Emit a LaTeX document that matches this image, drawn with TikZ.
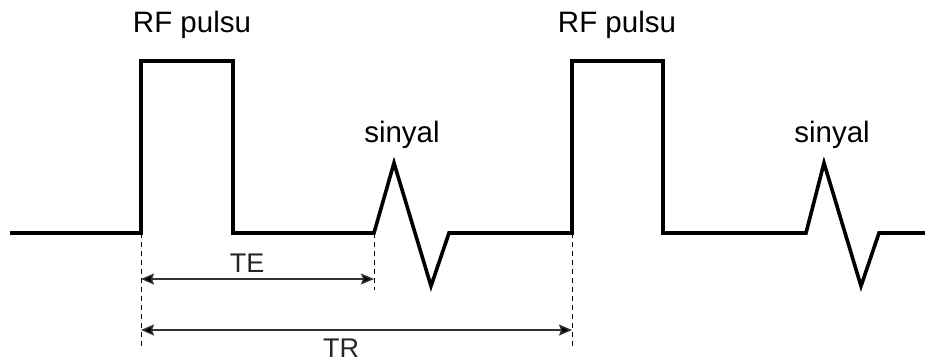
\documentclass[tikz,border=0pt]{standalone}
\usepackage{fontspec}
\setmainfont{Liberation Sans}
\usetikzlibrary{arrows.meta}
\begin{document}
\begin{tikzpicture}[x=1pt,y=-1pt,
  wave/.style={line width=3.6pt,line join=miter,black},
  guide/.style={line width=0.9pt,dash pattern=on 5pt off 4pt,black},
  dim/.style={line width=1.4pt,draw=black!80,{Stealth[length=13pt,width=11pt,inset=2pt,fill=black]}-{Stealth[length=13pt,width=11pt,inset=2pt,fill=black]}},
  biglabel/.style={font=\fontsize{29.5}{30}\selectfont,anchor=base,inner sep=0pt},
  smalllabel/.style={font=\fontsize{27}{28}\selectfont,anchor=base,inner sep=0pt,text=black!85}]
\useasboundingbox (0,0) rectangle (925,362);
% key points of the waveform
\coordinate (s) at (10,233);
\coordinate (p1a) at (141,233);
\coordinate (p1b) at (233,233);
\coordinate (e1a) at (374,233);
\coordinate (e1b) at (449,233);
\coordinate (p2a) at (572,233);
\coordinate (p2b) at (663,233);
\coordinate (e2a) at (806,233);
\coordinate (e2b) at (879,233);
\coordinate (f) at (925,233);
\draw[wave] (s) -- (p1a) -- (141,61) -- (233,61) -- (p1b) -- (e1a)
  -- (394,163) -- (431,286) -- (e1b) -- (p2a) -- (572,61) -- (663,61)
  -- (p2b) -- (e2a) -- (824,163) -- (861,286) -- (e2b) -- (f);
% guide lines
\coordinate (g1) at (141,346);
\coordinate (g2) at (374,290);
\coordinate (g3) at (572,346);
\draw[guide] (p1a) -- (g1);
\draw[guide] (e1a) -- (g2);
\draw[guide] (p2a) -- (g3);
% dimension arrows
\coordinate (te1) at (141,279);
\coordinate (te2) at (374,279);
\coordinate (tr1) at (141,330);
\coordinate (tr2) at (572,330);
\draw[dim] (te1) -- (te2);
\draw[dim] (tr1) -- (tr2);
% labels
\node[biglabel] (rf1) at (192,32) {RF pulsu};
\node[biglabel] (rf2) at (617,32) {RF pulsu};
\node[biglabel] (sg1) at (402,142) {sinyal};
\node[biglabel] (sg2) at (832,142) {sinyal};
\node[smalllabel] (te) at (247,272) {TE};
\node[smalllabel] (tr) at (341,357) {TR};
\end{tikzpicture}
\end{document}
